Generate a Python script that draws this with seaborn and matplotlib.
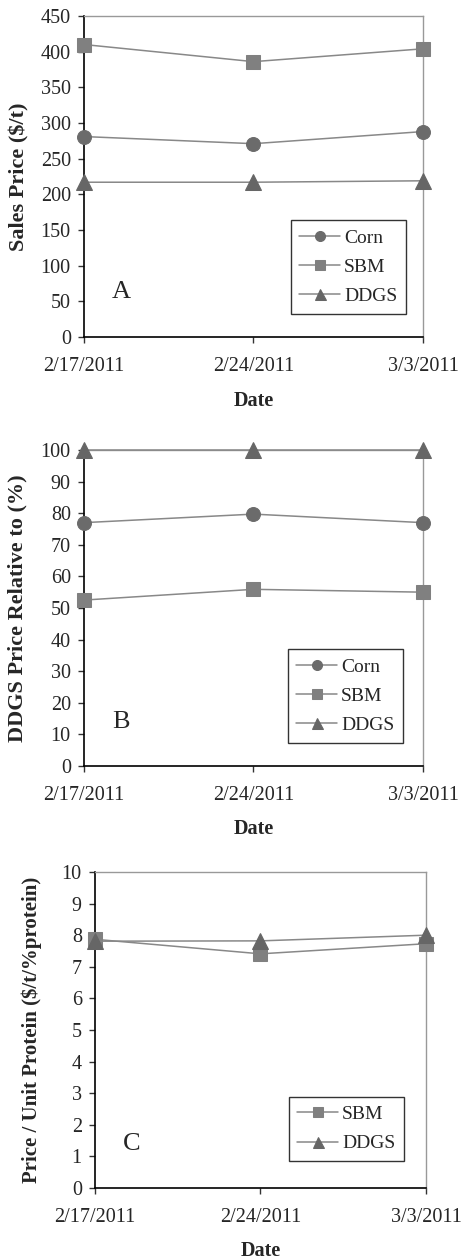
import pandas as pd
import matplotlib
matplotlib.use("Agg")
import matplotlib.pyplot as plt
import seaborn as sns

sns.set_style("white")
plt.rcParams['font.family'] = ['Liberation Serif', 'DejaVu Serif']
plt.rcParams['font.size'] = 14

# Dados
datas = ['2/17/2011', '2/24/2011', '3/3/2011']

preco_milho = [281, 271, 288]
preco_farelo = [410, 386, 404]
preco_ddgs = [217, 217, 219]

rel_milho = [77.0, 79.7, 77.0]
rel_farelo = [52.5, 55.9, 55.0]
rel_ddgs = [100, 100, 100]

prot_farelo = [7.87, 7.41, 7.73]
prot_ddgs = [7.81, 7.82, 8.0]

CORES = {'Corn': '#6b6b6b', 'SBM': '#808080', 'DDGS': '#666666'}
MARCADORES = {'Corn': 'o', 'SBM': 's', 'DDGS': '^'}
TAMANHOS = {'Corn': 10, 'SBM': 10, 'DDGS': 11}


def monta_df(series):
    linhas = []
    for nome, valores in series.items():
        for d, v in zip(datas, valores):
            linhas.append({'data': d, 'valor': v, 'produto': nome})
    return pd.DataFrame(linhas)


def desenha(ax, series, yticks, ylabel, letra, leg_anchor, ylab_x, ylab_size):
    df = monta_df(series)
    nomes = list(series.keys())
    sns.lineplot(data=df, x='data', y='valor', hue='produto', style='produto',
                 hue_order=nomes, style_order=nomes,
                 palette={n: '#888888' for n in nomes},
                 markers={n: MARCADORES[n] for n in nomes}, dashes=False,
                 linewidth=1.1, errorbar=None, sort=False, legend=False, ax=ax)
    linhas = ax.get_lines()[:len(nomes)]
    for linha, n in zip(linhas, nomes):
        linha.set_markersize(TAMANHOS[n])
        linha.set_markerfacecolor(CORES[n])
        linha.set_markeredgecolor(CORES[n])
        linha.set_clip_on(False)
        linha.set_zorder(5)

    ax.set_xlim(0, len(datas) - 1)
    ax.set_ylim(yticks[0], yticks[-1])
    ax.set_yticks(yticks)
    ax.set_xticks(range(len(datas)))
    ax.set_xticklabels(datas)

    for lado in ['left', 'bottom']:
        ax.spines[lado].set_color('black')
        ax.spines[lado].set_linewidth(1.2)
    for lado in ['top', 'right']:
        ax.spines[lado].set_color('#999999')
        ax.spines[lado].set_linewidth(1.0)

    ax.tick_params(axis='both', which='major', direction='out', length=4.5,
                   width=1, color='#333333', labelsize=14.5, left=True,
                   bottom=True, pad=5)
    ax.tick_params(axis='x', pad=10)

    ax.set_ylabel(ylabel, fontweight='bold', fontsize=ylab_size)
    ax.yaxis.label.set_va('center')
    ax.yaxis.set_label_coords(ylab_x, 0.5)
    ax.set_xlabel('Date', fontweight='bold', fontsize=14.5)
    ax.xaxis.label.set_va('center')
    ax.xaxis.set_label_coords(0.5, -0.2)

    ax.text(0.11, 0.14, letra, transform=ax.transAxes, fontsize=19,
            ha='center', va='center')

    leg = ax.legend(linhas, nomes, loc='lower right', bbox_to_anchor=leg_anchor,
                    frameon=True, fancybox=False, edgecolor='black',
                    markerscale=0.72, handlelength=2.1, labelspacing=0.6,
                    borderpad=0.45, handletextpad=0.2, fontsize=14,
                    borderaxespad=0)
    leg.get_frame().set_linewidth(1.0)


fig = plt.figure(figsize=(4.62, 12.59), dpi=100)

ax_a = fig.add_axes([0.1818, 0.7323, 0.7338, 0.255])
desenha(ax_a, {'Corn': preco_milho, 'SBM': preco_farelo, 'DDGS': preco_ddgs},
        list(range(0, 451, 50)), 'Sales Price ($/t)', 'A', (0.95, 0.072), -0.189, 16)

ax_b = fig.add_axes([0.1818, 0.3916, 0.7338, 0.251])
desenha(ax_b, {'Corn': rel_milho, 'SBM': rel_farelo, 'DDGS': rel_ddgs},
        list(range(0, 101, 10)), 'DDGS Price Relative to (%)', 'B', (0.941, 0.073), -0.195, 16)

ax_c = fig.add_axes([0.2056, 0.0564, 0.7165, 0.251])
desenha(ax_c, {'SBM': prot_farelo, 'DDGS': prot_ddgs},
        list(range(0, 11, 1)), 'Price / Unit Protein ($/t/%protein)', 'C', (0.934, 0.085), -0.19, 15)

fig.savefig('out.png', dpi=100)
